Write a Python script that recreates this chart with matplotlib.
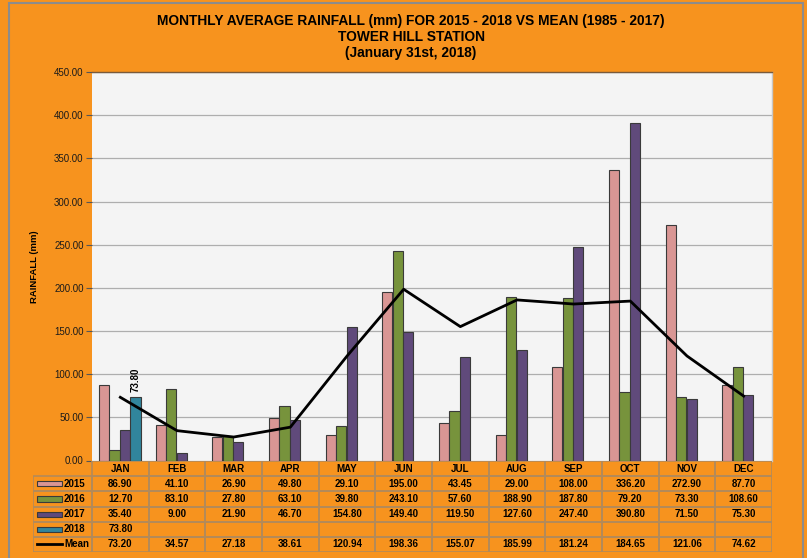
import matplotlib
matplotlib.use("Agg")
import matplotlib.pyplot as plt
from matplotlib.patches import Rectangle
from matplotlib.lines import Line2D
import numpy as np

months = ["JAN", "FEB", "MAR", "APR", "MAY", "JUN", "JUL", "AUG", "SEP", "OCT", "NOV", "DEC"]
r2015 = [86.90, 41.10, 26.90, 49.80, 29.10, 195.00, 43.45, 29.00, 108.00, 336.20, 272.90, 87.70]
r2016 = [12.70, 83.10, 27.80, 63.10, 39.80, 243.10, 57.60, 188.90, 187.80, 79.20, 73.30, 108.60]
r2017 = [35.40, 9.00, 21.90, 46.70, 154.80, 149.40, 119.50, 127.60, 247.40, 390.80, 71.50, 75.30]
r2018 = [73.80]
mean = [73.20, 34.57, 27.18, 38.61, 120.94, 198.36, 155.07, 185.99, 181.24, 184.65, 121.06, 74.62]
yticks = [0, 50, 100, 150, 200, 250, 300, 350, 400, 450]

series = [("2015", r2015, "#D99694"), ("2016", r2016, "#77933C"),
          ("2017", r2017, "#604A7B"), ("2018", r2018, "#31859C")]

ORANGE = "#F7931E"
W, H = 807, 558
fig = plt.figure(figsize=(W / 100, H / 100), dpi=100, facecolor=ORANGE)
plt.rcParams['font.family'] = ['Liberation Sans', 'DejaVu Sans']

def fx(px):
    return px / W

def fy(py):
    return 1 - py / H

# outer border
fig.patches.append(Rectangle((fx(9), -0.1), fx(803 - 9), fy(3) + 0.1, transform=fig.transFigure,
                             fill=False, edgecolor="#8C8C8C", lw=1.5, zorder=0))

L, R, T, B = 92, 772, 72, 460.5
ax = fig.add_axes([fx(L), fy(B), fx(R - L), (B - T) / H])
ax.set_facecolor("#F4F4F4")
ax.set_xlim(-0.5, 11.5)
ax.set_ylim(0, 450)
ax.set_yticks(yticks)
ax.set_yticklabels([f"{v:.2f}" for v in yticks], fontsize=7, color="#1a1a1a")
ax.set_xticks([])
ax.yaxis.grid(True, color="#AEAEAE", lw=0.9)
ax.set_axisbelow(True)
for s in ["left", "bottom"]:
    ax.spines[s].set_visible(False)
ax.spines["top"].set_color("#7a5a3a")
ax.spines["top"].set_linewidth(1.0)
ax.spines["right"].set_color("#C8C8C8")
ax.spines["right"].set_linewidth(1.0)
ax.tick_params(axis="y", length=4, color="#555555", pad=2)
ax.set_ylabel("RAINFALL (mm)", fontsize=6.8, fontweight="bold", labelpad=11)

x = np.arange(len(months))
bw = 0.18
step = 0.185
for i, (name, vals, col) in enumerate(series):
    xs = x[:len(vals)] - 0.2875 + step * i
    ax.bar(xs, vals, width=bw, color=col, edgecolor="#3a3a3a", lw=0.8, zorder=3)
    if name == "2018":
        for xv, v in zip(xs, vals):
            ax.text(xv, v + 6, f"{v:.2f}", rotation=90, ha="center", va="bottom",
                    fontsize=7, fontweight="bold")

ax.plot(x, mean, color="black", lw=2, zorder=4)

# title
fig.text(fx(411), fy(21), "MONTHLY AVERAGE RAINFALL (mm) FOR 2015 - 2018 VS MEAN (1985 - 2017)",
         ha="center", va="center", fontsize=9.9, fontweight="bold")
fig.text(fx(411), fy(37), "TOWER HILL STATION", ha="center", va="center", fontsize=9.9, fontweight="bold")
fig.text(fx(411), fy(52.5), "(January 31st, 2018)", ha="center", va="center", fontsize=9.9, fontweight="bold")

# data table
cw = (R - L) / 12.0
lab_left = -0.5 - (L - 33) / cw
TT, TB = 461, 552
tax = fig.add_axes([fx(33), fy(TB), fx(R - 33), (TB - TT) / H])
tax.set_xlim(lab_left, 11.5)
tax.set_ylim(6, 0)
tax.axis("off")
tax.patch.set_alpha(0)
ec = "#B38A5A"
# header cells
for j, m in enumerate(months):
    tax.add_patch(Rectangle((j - 0.5, 0), 1, 1, fill=False, edgecolor=ec, lw=1.2))
    tax.text(j, 0.5, m, ha="center", va="center", fontsize=7, fontweight="bold")

rows = [("2015", r2015, "#D99694", "bar"), ("2016", r2016, "#77933C", "bar"),
        ("2017", r2017, "#604A7B", "bar"), ("2018", r2018, "#31859C", "bar"),
        ("Mean", mean, "black", "line")]
for r, (name, vals, col, kind) in enumerate(rows, start=1):
    tax.add_patch(Rectangle((lab_left, r), -0.5 - lab_left, 1, fill=False, edgecolor=ec, lw=1.2))
    sw_l = lab_left + 4 / cw
    sw_w = 25 / cw
    if kind == "bar":
        tax.add_patch(Rectangle((sw_l, r + 0.34), sw_w, 0.34, facecolor=col, edgecolor="#3a3a3a", lw=0.8))
    else:
        tax.add_line(Line2D([sw_l, sw_l + sw_w], [r + 0.5, r + 0.5], color="black", lw=2))
    tax.text(sw_l + sw_w + 2 / cw, r + 0.5, name, ha="left", va="center", fontsize=7, fontweight="bold")
    for j in range(12):
        tax.add_patch(Rectangle((j - 0.5, r), 1, 1, fill=False, edgecolor=ec, lw=1.2))
        if j < len(vals):
            tax.text(j, r + 0.5, f"{vals[j]:.2f}", ha="center", va="center", fontsize=7, fontweight="bold")

fig.savefig("out.png", dpi=100, facecolor=ORANGE)
